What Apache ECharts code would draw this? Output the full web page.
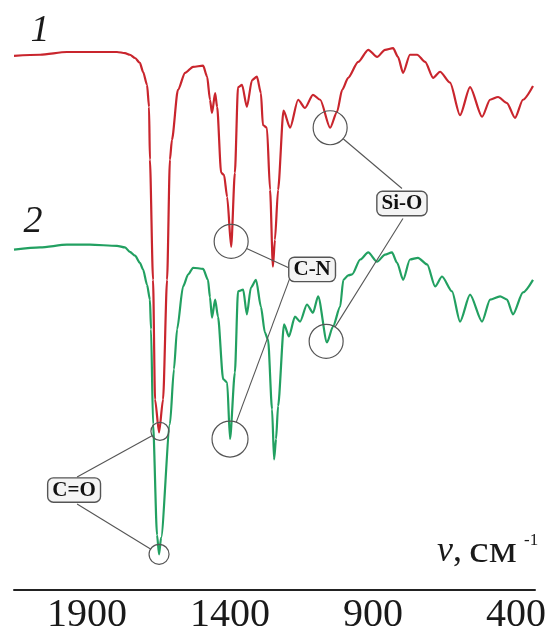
<!DOCTYPE html>
<html>
<head>
<meta charset="utf-8">
<script src="https://cdn.jsdelivr.net/npm/echarts@6/dist/echarts.min.js"></script>
<style>
  html, body { margin: 0; padding: 0; background: #fff; }
  #chart { width: 555px; height: 635px; }
</style>
</head>
<body>
<div id="chart"></div>
<script>
// IR spectra: wavenumber (cm^-1) and transmittance (arbitrary %, curves offset)
const nuRed = [2155, 2064, 1970, 1890, 1795, 1767, 1750, 1732, 1715, 1704, 1690, 1683, 1680, 1669, 1662, 1648,
  1634, 1620, 1610, 1603, 1582, 1557, 1529, 1494, 1480, 1470, 1463, 1452, 1445, 1431, 1421, 1410, 1396, 1383,
  1372, 1358, 1341, 1323, 1306, 1292, 1285, 1271, 1260, 1250, 1243, 1232, 1213, 1190, 1162, 1138, 1110, 1085,
  1050, 1026, 1008, 987, 952, 917, 886, 858, 830, 813, 795, 771, 746, 718, 690, 666, 631, 596, 561, 519, 491,
  463, 432, 404, 376, 341];
const tRed = [97.3, 97.5, 98.0, 98.0, 98.0, 97.8, 97.5, 96.9, 96.0, 94.4, 92.0, 88.0, 78.4, 56.5, 34.7, 28.7,
  34.7, 56.5, 78.4, 82.0, 91.1, 94.2, 95.3, 95.5, 93.5, 89.3, 86.9, 90.5, 88.0, 76.0, 75.6, 71.6, 62.5, 76.0,
  91.6, 92.0, 88.0, 92.9, 93.5, 90.5, 84.7, 84.2, 72.9, 58.9, 63.8, 72.9, 87.3, 84.2, 89.3, 87.8, 90.2, 89.3,
  84.2, 87.1, 91.1, 93.3, 96.2, 98.4, 97.1, 98.4, 98.7, 97.1, 94.2, 97.5, 97.5, 96.2, 93.3, 94.4, 92.4, 86.5,
  91.6, 86.2, 89.3, 89.8, 88.7, 86.0, 89.3, 91.8];

const nuGreen = [2155, 2064, 1970, 1890, 1795, 1767, 1750, 1732, 1715, 1704, 1690, 1680, 1676, 1669, 1655, 1648,
  1641, 1610, 1596, 1585, 1564, 1546, 1529, 1494, 1477, 1470, 1463, 1452, 1442, 1424, 1410, 1400, 1383, 1372,
  1354, 1341, 1327, 1309, 1292, 1278, 1267, 1253, 1246, 1239, 1232, 1211, 1194, 1173, 1155, 1131, 1110, 1092,
  1061, 1040, 1015, 1004, 987, 973, 945, 917, 886, 858, 834, 816, 795, 771, 743, 711, 683, 659, 624, 596, 561,
  519, 491, 456, 432, 411, 376, 341];
const tGreen = [62.0, 62.4, 62.9, 62.9, 62.7, 62.4, 61.6, 60.9, 59.6, 58.4, 55.6, 52.9, 47.5, 30.2, 10.0, 6.5,
  9.5, 30.2, 40.2, 47.5, 55.3, 57.5, 58.7, 58.5, 56.5, 53.3, 49.6, 52.9, 49.8, 38.4, 37.8, 27.5, 39.6, 54.4,
  54.7, 50.2, 55.1, 56.5, 51.6, 46.9, 45.6, 32.9, 23.8, 27.5, 33.5, 48.4, 46.2, 49.8, 48.9, 52.0, 50.5, 53.5,
  45.1, 48.0, 51.6, 56.5, 57.3, 57.5, 60.2, 61.5, 59.8, 61.1, 61.5, 59.6, 56.5, 60.2, 60.5, 59.3, 55.3, 57.1,
  54.4, 48.9, 53.8, 48.9, 52.9, 53.5, 52.9, 50.2, 54.2, 56.5];

const tickValues = [1900, 1400, 900, 400];
const curveNames = ['1', '2'];

// assigned bands: label position and the circled peak on each curve
const bandLabels = ['C=O', 'C-N', 'Si-O'];
const bandLabelNu = [1945, 1113, 799];
const bandLabelT = [18.2, 58.4, 70.4];
const bandPeakNu1 = [1645, 1396, 1050];
const bandPeakT1 = [28.9, 63.5, 84.2];
const bandPeakNu2 = [1648, 1400, 1064];
const bandPeakT2 = [6.5, 27.5, 45.3];

const RED = '#c9252d';
const GREEN = '#22a061';
const SERIF = '"Liberation Serif", "DejaVu Serif", serif';

const pairs = (xs, ys) => xs.map((x, i) => [x, ys[i]]);

const chart = echarts.init(document.getElementById('chart'), null, { renderer: 'canvas' });

chart.setOption({
  animation: false,
  backgroundColor: '#fff',
  grid: { left: 14, right: 20, top: 41, bottom: 44, containLabel: false },
  xAxis: {
    type: 'value',
    inverse: true,
    min: 334,
    max: 2155,
    axisLine: { show: true, lineStyle: { color: '#222', width: 2 } },
    axisTick: { show: false },
    splitLine: { show: false },
    axisLabel: {
      customValues: tickValues,
      formatter: (v) => String(v),
      hideOverlap: false,
      margin: 5,
      color: '#1a1a1a',
      fontFamily: SERIF,
      fontSize: 40
    }
  },
  yAxis: {
    type: 'value',
    min: 0,
    max: 100,
    show: false
  },
  series: [
    {
      name: curveNames[0],
      type: 'line',
      data: pairs(nuRed, tRed),
      showSymbol: false,
      smooth: 0.25,
      smoothMonotone: 'x',
      lineStyle: { color: RED, width: 2.2 },
      z: 3
    },
    {
      name: curveNames[1],
      type: 'line',
      data: pairs(nuGreen, tGreen),
      showSymbol: false,
      smooth: 0.25,
      smoothMonotone: 'x',
      lineStyle: { color: GREEN, width: 2.2 },
      z: 2
    }
  ]
});

// annotation overlay: circles on the band peaks joined to the labelled boxes
const toPx = (v, t) => chart.convertToPixel({ gridIndex: 0 }, [v, t]);
const circleR = [[9, 10], [17, 18], [17, 17]];
const anchorOff = [[[3, -13], [3, 14]], [[-24, -2], [-22, 8]], [[0, -15], [1, 15]]];

const graphics = [];
bandLabels.forEach((label, i) => {
  const c = toPx(bandLabelNu[i], bandLabelT[i]);
  const peaks = [toPx(bandPeakNu1[i], bandPeakT1[i]), toPx(bandPeakNu2[i], bandPeakT2[i])];
  peaks.forEach((p, k) => {
    const r = circleR[i][k];
    const a = [c[0] + anchorOff[i][k][0], c[1] + anchorOff[i][k][1]];
    const dx = a[0] - p[0], dy = a[1] - p[1];
    const len = Math.hypot(dx, dy);
    graphics.push({
      type: 'circle', z: 100,
      shape: { cx: p[0], cy: p[1], r: r },
      style: { fill: 'none', stroke: '#555', lineWidth: 1.2 }
    });
    graphics.push({
      type: 'line', z: 100,
      shape: { x1: p[0] + dx / len * r, y1: p[1] + dy / len * r, x2: a[0], y2: a[1] },
      style: { stroke: '#555', lineWidth: 1.1 }
    });
  });
  graphics.push({
    type: 'text', z: 101,
    x: c[0], y: c[1],
    style: {
      text: label,
      font: 'bold 21px ' + SERIF,
      fill: '#111',
      align: 'center',
      verticalAlign: 'middle',
      backgroundColor: '#f4f4f4',
      borderColor: '#555',
      borderWidth: 1.4,
      borderRadius: 5,
      padding: [2, 4, 0, 4]
    }
  });
});

// curve numbers
graphics.push({
  type: 'text', z: 101, x: 40, y: 31,
  style: { text: curveNames[0], font: 'italic 38px ' + SERIF, fill: '#1a1a1a', align: 'center', verticalAlign: 'middle' }
});
graphics.push({
  type: 'text', z: 101, x: 33, y: 222,
  style: { text: curveNames[1], font: 'italic 38px ' + SERIF, fill: '#1a1a1a', align: 'center', verticalAlign: 'middle' }
});

// axis title: ν, см^-1
graphics.push({
  type: 'text', z: 101, x: 437, y: 552,
  style: { text: '{a|ν}{b|,}', align: 'left', verticalAlign: 'middle',
    rich: {
      a: { font: 'italic 36px ' + SERIF, fill: '#1a1a1a' },
      b: { font: '36px ' + SERIF, fill: '#1a1a1a' }
    }
  }
});
graphics.push({
  type: 'text', z: 101, x: 469, y: 552, scaleX: 1.2, originX: 0, originY: 0,
  style: { text: 'см', font: '37px ' + SERIF, fill: '#1a1a1a', align: 'left', verticalAlign: 'middle' }
});
graphics.push({
  type: 'text', z: 101, x: 524, y: 541,
  style: { text: '-1', font: '17px ' + SERIF, fill: '#1a1a1a', align: 'left', verticalAlign: 'middle' }
});

chart.setOption({ graphic: graphics });
</script>
</body>
</html>
